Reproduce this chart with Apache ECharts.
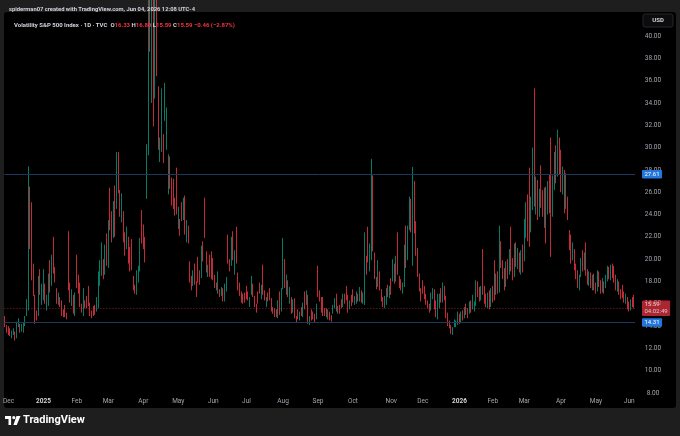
<!DOCTYPE html>
<html><head><meta charset="utf-8">
<script src="https://cdn.jsdelivr.net/npm/echarts@6/dist/echarts.min.js"></script>
<style>html,body{margin:0;padding:0;background:#1e1e1e;overflow:hidden}#c{width:680px;height:436px}</style>
</head><body><div id="c"></div>
<script>
// Trading days per month (category axis)
const tradingDays = [
['2024-11',[27,29]],
['2024-12',[2,3,4,5,6,9,10,11,12,13,16,17,18,19,20,23,24,26,27,30,31]],
['2025-01',[2,3,6,7,8,10,13,14,15,16,17,21,22,23,24,27,28,29,30,31]],
['2025-02',[3,4,5,6,7,10,11,12,13,14,18,19,20,21,24,25,26,27,28]],
['2025-03',[3,4,5,6,7,10,11,12,13,14,17,18,19,20,21,24,25,26,27,28,31]],
['2025-04',[1,2,3,4,7,8,9,10,11,14,15,16,17,21,22,23,24,25,28,29,30]],
['2025-05',[1,2,5,6,7,8,9,12,13,14,15,16,19,20,21,22,23,27,28,29,30]],
['2025-06',[2,3,4,5,6,9,10,11,12,13,16,17,18,20,23,24,25,26,27,30]],
['2025-07',[1,2,3,7,8,9,10,11,14,15,16,17,18,21,22,23,24,25,28,29,30,31]],
['2025-08',[1,4,5,6,7,8,11,12,13,14,15,18,19,20,21,22,25,26,27,28,29]],
['2025-09',[2,3,4,5,8,9,10,11,12,15,16,17,18,19,22,23,24,25,26,29,30]],
['2025-10',[1,2,3,6,7,8,9,10,13,14,15,16,17,20,21,22,23,24,27,28,29,30,31]],
['2025-11',[3,4,5,6,7,10,11,12,13,14,17,18,19,20,21,24,25,26,28]],
['2025-12',[1,2,3,4,5,8,9,10,11,12,15,16,17,18,19,22,23,24,26,29,30,31]],
['2026-01',[2,5,6,7,8,9,12,13,14,15,16,20,21,22,23,26,27,28,29,30]],
['2026-02',[2,3,4,5,6,9,10,11,12,13,17,18,19,20,23,24,25,26,27]],
['2026-03',[2,3,4,5,6,9,10,11,12,13,16,17,18,19,20,23,24,25,26,27,30,31]],
['2026-04',[1,2,6,7,8,9,10,13,14,15,16,17,20,21,22,23,24,27,28,29,30]],
['2026-05',[1,4,5,6,7,8,11,12,13,14,15,18,19,20,21,22,26,27,28,29]],
['2026-06',[1,2,3,4]]
];

// Daily candles per month: [open, close, low, high]
const nov24 = [[14.2,14.10,13.9,14.9],[14.0,13.51,13.4,14.1]];
const dec24 = [[13.9,13.34,13.2,14.0],[13.6,13.30,13.1,13.8],[13.4,13.45,12.9,13.6],[13.5,13.54,13.2,13.8],[13.4,12.77,12.7,13.5],
[13.0,14.19,12.9,14.4],[14.0,14.18,13.9,14.7],[14.0,13.58,13.4,14.2],[13.7,13.92,13.5,14.2],[13.8,13.81,13.4,14.3],
[14.4,14.69,14.0,14.9],[15.0,15.87,14.9,16.4],[15.6,27.62,15.4,28.32],[25.8,24.09,20.9,26.5],[24.6,18.36,18.1,25.1],
[19.4,16.78,16.7,19.6],[16.7,14.27,14.2,16.8],[15.3,14.73,14.5,15.4],[15.1,15.95,14.9,18.5],[17.8,17.40,16.8,19.1],[16.9,17.35,15.9,17.8]];
const jan25 = [[17.2,17.93,16.3,19.1],[17.6,16.13,16.0,17.8],[16.0,16.04,15.4,16.8],[16.1,17.82,15.8,18.7],[17.9,17.70,17.0,19.9],
[17.9,19.54,17.6,20.4],[20.9,19.19,18.7,22.0],[18.9,18.71,17.9,19.3],[17.3,16.12,16.0,17.4],[16.3,16.60,15.9,17.0],
[16.2,15.97,15.7,16.6],[16.0,15.06,14.9,16.3],[15.3,15.10,14.8,15.5],[15.6,15.02,14.8,15.9],[15.0,14.85,14.6,15.2],
[18.6,17.90,17.2,22.5],[17.4,16.41,16.1,17.9],[16.3,16.56,15.8,17.3],[16.5,15.84,15.1,16.8],[15.5,16.43,14.9,17.0]];
const feb25 = [[19.5,18.62,17.4,20.4],[18.4,17.21,16.9,18.6],[17.8,15.77,15.7,17.9],[15.8,15.50,15.2,16.0],[15.3,16.54,14.9,17.4],
[15.9,15.81,15.6,16.3],[16.3,16.02,15.6,16.7],[17.1,15.89,15.8,17.6],[15.9,15.10,14.9,16.1],[15.2,14.77,14.7,15.4],
[15.4,15.35,14.9,15.8],[15.6,15.27,15.0,15.9],[15.6,15.66,15.3,16.6],[15.8,18.21,15.6,18.9],[17.9,18.98,17.6,19.9],
[19.0,19.43,18.5,21.5],[19.2,19.10,18.2,20.0],[18.9,21.13,18.6,21.3],[21.0,19.63,19.4,22.3]];
const mar25 = [[19.8,22.78,19.2,23.5],[23.6,23.51,22.6,26.4],[23.3,21.93,21.5,24.3],[22.0,24.87,21.9,25.2],[24.4,23.37,22.0,26.6],
[24.7,27.86,24.5,29.6],[27.9,26.92,25.9,29.6],[25.9,24.23,23.8,26.2],[24.2,24.66,23.3,25.9],[23.8,21.77,21.5,24.3],
[22.0,20.51,20.3,22.4],[21.4,21.70,20.9,22.9],[21.6,19.90,19.6,22.0],[20.3,19.80,18.9,21.1],[20.7,19.28,19.0,21.8],
[18.1,17.48,17.2,18.5],[17.6,17.15,16.9,17.7],[17.1,18.33,16.8,19.0],[18.5,18.69,17.9,19.4],[19.0,21.65,18.9,21.9],[22.9,22.28,21.4,24.4]];
const apr25 = [[22.1,21.77,20.9,23.1],[21.9,21.51,19.7,22.0],[25.6,30.02,25.4,30.3],[29.8,45.31,29.3,45.6],[60.1,46.98,38.6,60.1],
[44.0,52.33,34.0,57.5],[50.9,33.62,31.9,57.5],[40.3,40.72,34.4,54.9],[40.5,37.56,36.4,46.1],[35.1,30.89,29.8,35.5],
[29.3,30.12,28.7,30.9],[32.2,32.64,29.6,35.3],[30.1,29.65,28.6,31.2],[33.6,33.82,32.4,35.8],[30.1,30.57,29.8,33.6],
[28.4,28.45,25.8,29.4],[28.8,26.47,26.3,29.2],[26.8,24.84,24.8,27.3],[25.9,25.15,24.5,27.2],[25.2,24.17,23.9,25.5],[25.8,24.70,24.0,28.2]];
const may25 = [[24.0,24.60,22.7,24.7],[23.3,22.68,22.1,23.6],[24.3,23.64,23.4,25.1],[24.5,24.76,23.5,25.5],[24.5,23.55,22.2,25.7],
[22.4,22.48,21.5,23.5],[22.5,21.90,21.4,23.0],[19.7,18.39,17.9,19.8],[18.2,17.61,17.2,18.5],[17.8,18.62,17.6,19.0],
[19.1,17.83,17.7,19.6],[17.9,17.24,16.6,18.0],[19.5,18.14,17.9,20.2],[18.3,18.09,17.7,19.0],[18.6,20.87,18.3,21.2],
[20.7,20.28,19.8,21.6],[24.0,22.29,21.9,25.5],[20.6,18.96,18.8,20.7],[19.3,19.31,18.4,19.5],[20.3,19.18,18.4,20.4],[19.3,18.57,18.2,20.7]];
const jun25 = [[19.9,18.36,18.1,20.1],[18.4,17.69,17.4,18.6],[17.7,17.61,17.2,17.9],[17.4,18.48,16.9,18.9],[17.2,16.77,16.6,17.3],
[16.9,17.16,16.7,17.5],[17.3,16.95,16.2,17.4],[17.0,17.26,16.2,17.8],[17.5,18.02,17.1,18.4],[21.0,20.82,19.6,22.2],
[19.5,19.11,18.9,20.0],[19.8,21.60,19.4,22.0],[20.8,20.14,19.9,22.5],[19.7,20.62,18.6,20.8],[22.6,19.83,19.6,22.9],
[18.4,17.48,17.2,18.8],[17.6,16.76,16.7,17.9],[16.9,16.59,16.1,17.1],[16.6,16.32,16.0,16.9],[16.9,16.73,16.1,17.0]];
const jul25 = [[17.1,16.83,16.4,17.6],[16.9,16.64,16.3,17.1],[16.3,16.38,15.7,16.6],[17.6,17.79,16.8,18.5],[17.7,16.81,16.6,17.8],
[16.6,15.94,15.7,16.7],[15.8,15.78,15.2,16.0],[16.8,16.40,16.0,17.1],[17.7,17.20,16.9,17.9],[16.9,17.38,16.4,17.7],
[17.3,17.16,16.8,19.5],[17.0,16.52,16.3,17.2],[16.3,16.41,15.7,16.6],[16.8,16.65,16.2,17.0],[16.8,16.50,16.3,17.4],
[16.2,15.37,15.3,16.5],[15.4,15.39,15.1,15.7],[15.5,14.93,14.8,15.6],[15.2,15.03,14.8,15.5],[15.0,15.98,14.7,16.3],
[15.6,15.48,15.0,17.1],[15.5,16.72,15.3,17.4]];
const aug25 = [[17.4,20.38,17.3,21.9],[19.9,17.52,17.4,20.0],[17.6,17.85,16.8,18.6],[17.9,16.77,16.6,18.1],[16.4,16.57,16.0,17.5],
[16.5,15.15,15.1,16.6],[15.3,16.25,15.2,16.4],[16.4,14.73,14.7,16.5],[14.8,14.49,14.3,14.9],[15.1,14.83,14.6,15.5],
[14.8,15.09,14.5,15.3],[15.4,15.00,14.9,15.7],[15.1,15.57,14.8,16.1],[15.8,15.69,15.5,17.1],[16.3,16.60,15.9,17.2],
[16.6,14.22,14.2,16.8],[14.5,14.79,14.1,14.9],[15.1,14.62,14.5,15.5],[15.0,14.85,14.6,15.3],[14.9,14.43,14.3,15.1],[14.7,15.36,14.6,16.0]];
const sep25 = [[17.2,17.17,16.6,19.4],[16.9,16.35,16.2,17.2],[16.4,15.30,15.2,16.6],[15.3,15.18,14.9,16.6],[15.4,15.11,14.9,15.6],
[15.3,15.04,14.8,15.6],[14.8,15.35,14.6,15.5],[15.2,14.71,14.5,15.3],[14.8,14.76,14.4,15.0],[15.3,15.69,15.1,15.9],
[15.8,16.36,15.6,16.5],[16.5,15.72,15.3,16.9],[15.6,15.70,15.1,15.8],[15.6,15.45,15.1,15.9],[16.3,16.10,15.6,16.4],
[16.1,16.64,15.7,16.9],[16.5,16.18,16.0,16.9],[16.8,16.74,16.3,17.6],[16.7,15.29,15.2,16.8],[15.8,16.12,15.5,16.3],[16.4,16.28,15.8,16.8]];
const oct25 = [[17.0,16.29,16.1,17.3],[16.4,16.63,15.9,16.7],[16.6,16.65,16.0,17.1],[16.7,16.37,16.2,16.9],[16.5,17.24,16.2,17.5],
[17.1,16.30,16.1,17.2],[16.3,16.43,16.0,17.0],[16.4,21.66,15.9,22.4],[19.9,19.03,18.6,20.3],[21.4,20.81,19.7,22.9],
[20.6,20.64,18.9,21.4],[20.3,25.31,19.9,28.99],[27.3,20.78,20.7,27.5],[20.5,18.23,18.2,20.6],[18.1,17.87,17.3,18.4],
[18.0,18.60,17.5,19.9],[18.5,17.30,17.2,18.9],[17.2,16.37,16.2,17.3],[16.4,15.79,15.7,16.6],[15.9,16.42,15.6,16.7],
[16.5,16.92,15.9,17.4],[17.1,16.91,16.6,17.7],[17.2,17.44,16.5,17.6]];
const nov25 = [[17.5,17.17,16.8,18.3],[18.7,19.00,18.0,20.0],[19.1,18.01,17.8,19.6],[18.1,19.50,18.0,20.3],[19.6,19.08,18.6,22.4],
[18.3,17.60,17.4,18.5],[17.9,17.28,17.2,18.2],[17.5,17.51,16.9,17.9],[17.6,20.00,17.5,21.3],[21.6,19.83,19.2,23.0],
[20.0,22.38,19.9,23.0],[23.3,24.69,22.6,25.6],[23.7,23.66,22.4,25.4],[21.7,26.42,19.4,28.27],[25.8,23.43,22.3,27.0],
[22.9,20.52,20.3,23.4],[20.5,18.56,18.4,21.0],[18.5,17.19,17.1,18.7],[17.3,16.35,16.2,17.4]];
const dec25 = [[17.8,17.24,16.9,18.1],[17.0,16.59,16.4,17.6],[16.7,16.08,15.9,16.9],[16.1,15.78,15.6,16.3],[15.8,15.41,15.2,16.0],
[15.6,16.66,15.4,17.0],[16.8,16.93,16.4,17.4],[16.8,15.77,15.5,17.3],[16.1,14.85,14.8,16.3],[14.8,15.74,14.6,16.9],
[15.9,16.50,15.6,16.9],[16.7,16.48,16.1,17.4],[16.5,17.62,16.1,17.9],[17.1,16.87,16.3,17.6],[16.6,14.91,14.7,16.7],
[15.0,14.08,14.0,15.2],[14.1,14.00,13.8,14.5],[14.0,13.47,13.3,14.1],[13.6,13.60,13.2,13.9],[14.2,14.20,13.9,14.6],
[14.3,14.33,13.9,14.5],[14.4,14.95,14.1,15.3]];
const jan26 = [[14.9,14.5,14.2,15.1],[14.8,14.9,14.3,15.3],[14.9,14.8,14.5,15.4],[15.0,15.4,14.7,15.7],[15.5,15.3,15.0,16.0],
[15.2,15.0,14.7,15.6],[15.6,15.7,15.1,16.2],[15.8,15.6,15.2,16.3],[15.9,16.3,15.5,16.8],[15.5,15.9,15.3,16.2],
[15.9,17.6,15.8,18.1],[17.4,17.0,16.6,18.0],[17.2,16.6,16.2,17.5],[16.5,17.2,16.3,17.6],[20.2,17.0,16.8,20.9],
[17.2,16.4,16.0,17.6],[16.4,16.2,15.7,16.9],[16.1,16.6,15.6,17.0],[16.6,16.0,15.5,17.2],[16.0,16.9,15.7,17.4]];
const feb26 = [[17.3,16.4,16.1,17.6],[19.5,17.0,16.3,19.9],[17.2,18.0,16.8,18.7],[18.2,17.4,16.9,18.9],[17.2,21.8,17.0,23.0],
[21.0,19.5,19.2,21.6],[19.3,18.6,18.2,19.9],[18.8,17.6,17.2,19.2],[17.8,19.3,17.5,19.8],[19.4,18.7,18.2,20.0],
[18.9,20.4,18.6,20.9],[21.7,19.2,18.9,22.9],[19.5,18.4,18.1,20.1],[18.7,20.8,18.4,21.4],[20.9,19.6,19.3,21.5],
[19.8,20.4,19.1,21.0],[20.2,19.3,18.8,20.6],[19.5,20.1,18.6,20.8],[20.2,19.4,18.8,21.3]];
const mar26 = [[20.0,22.6,19.8,23.6],[22.4,23.9,21.9,25.1],[24.5,22.0,21.6,25.8],[26.0,22.6,21.1,28.2],[23.0,24.7,22.4,25.6],
[24.9,29.2,24.4,30.0],[29.6,25.6,24.7,35.3],[25.5,26.8,24.0,27.4],[26.6,24.2,23.5,27.1],[24.3,25.6,23.8,26.3],
[27.6,25.0,24.6,28.4],[25.2,24.4,23.8,26.2],[24.2,26.0,22.8,26.4],[25.9,24.3,21.4,26.5],[24.5,25.9,24.0,27.0],
[26.2,24.8,24.1,27.6],[28.2,23.8,20.2,30.9],[24.2,26.8,23.8,27.5],[26.6,28.9,26.2,29.6],[28.8,27.6,26.8,30.2],
[27.8,30.6,27.4,31.6],[30.4,28.4,27.6,30.9]];
const apr26 = [[29.4,26.6,26.0,29.8],[26.8,27.6,25.8,28.3],[27.8,24.6,24.1,28.0],[24.8,26.9,24.5,27.7],[25.2,23.9,23.5,25.6],
[22.4,21.2,20.8,22.6],[21.6,20.1,19.6,22.2],[20.4,20.9,19.9,21.5],[20.6,19.4,19.0,20.9],[19.3,18.6,18.2,19.6],
[18.7,17.9,17.4,19.0],[17.8,18.3,17.2,18.6],[18.6,19.6,18.4,20.1],[19.8,19.2,18.9,20.8],[19.3,20.1,19.0,20.6],
[19.4,18.7,18.5,21.5],[18.8,18.0,17.7,19.1],[18.1,18.6,17.6,18.9],[18.5,17.7,17.4,18.8],[17.8,18.3,17.2,18.6],[18.4,17.5,17.2,18.7]];
const may26 = [[17.6,17.2,16.9,17.9],[17.3,18.6,17.1,19.0],[18.4,17.9,17.5,18.9],[17.8,17.2,16.9,18.1],[17.3,17.9,17.0,18.3],
[17.8,17.3,16.9,18.0],[17.6,18.3,17.4,18.6],[18.4,19.0,18.0,19.4],[19.0,18.5,18.2,19.3],[18.6,19.2,18.1,19.5],
[19.3,18.6,18.3,19.6],[18.9,18.2,17.9,19.4],[18.3,17.5,17.2,18.6],[17.6,17.8,17.1,18.2],[17.8,17.1,16.8,18.0],
[17.0,16.7,16.4,17.3],[17.2,16.9,16.5,17.7],[16.9,16.4,16.1,17.1],[16.5,16.6,16.0,16.9],[16.4,15.8,15.5,16.6]];
const jun26 = [[15.9,15.6,15.3,16.2],[15.7,16.1,15.4,16.4],[16.2,16.05,15.7,16.6],[16.33,15.59,15.59,16.80]];

const monthCandles = [nov24,dec24,jan25,feb25,mar25,apr25,may25,jun25,jul25,aug25,sep25,oct25,nov25,dec25,jan26,feb26,mar26,apr26,may26,jun26];

// Horizontal levels drawn on the chart
const levelLines = [27.61, 14.31];
const countdownText = '04:02:49';
const monthNames = ['Jan','Feb','Mar','Apr','May','Jun','Jul','Aug','Sep','Oct','Nov','Dec'];
const priceTicks = {min: 6, max: 42, step: 2};

const UP = '#089981', DOWN = '#f23645';
const LEVEL_LINE = '#1d3a5c', LEVEL_BOX = '#2276dc';
const FONT = 'Roboto';

const dates = [], candles = [], monthStart = [];
tradingDays.forEach(([ym, days], mi) => {
  days.forEach((d, di) => {
    dates.push(ym + '-' + String(d).padStart(2,'0'));
    monthStart.push(di === 0 && mi > 0);
    candles.push(monthCandles[mi][di]);
  });
});
const last = candles[candles.length-1];
const prevClose = candles[candles.length-2][1];
const chg = last[1] - prevClose;
const pct = chg / prevClose * 100;
const fmt = v => v.toFixed(2);
const sgn = v => (v < 0 ? '\u2212' : '+') + Math.abs(v).toFixed(2);

const boxLabel = (text, bg) => ({show:true, position:'end', distance:7, formatter: text, color:'#fff', backgroundColor:bg,
  padding:[1,2.5,0.5,2.5], fontSize:6, lineHeight:7, fontFamily: FONT, borderRadius:1});

const chart = echarts.init(document.getElementById('c'), null, {renderer:'canvas'});
chart.setOption({
  animation: false,
  backgroundColor: '#1e1e1e',
  textStyle: {fontFamily: FONT},
  title: [
    {left: 4, top: 2, text: 'spiderman07 created with TradingView.com, Jun 04, 2026 12:08 UTC-4',
     textStyle: {color:'#d1d4dc', fontSize: 5.8, fontWeight: 'bold', fontFamily: FONT}},
    {left: 9, top: 17,
     text: '{n|Volatility S&P 500 Index · 1D · TVC}  {k|O}{v|' + fmt(last[0]) + '} {k|H}{v|' + fmt(last[3]) + '} {k|L}{v|' + fmt(last[2]) +
           '} {k|C}{v|' + fmt(last[1]) + '} {v|' + sgn(chg) + ' (' + sgn(pct) + '%)}',
     textStyle: {fontSize: 6, fontFamily: FONT, rich: {
       n: {color:'#d1d4dc', fontSize: 6, fontFamily: FONT},
       k: {color:'#d1d4dc', fontSize: 6, fontFamily: FONT},
       v: {color: DOWN, fontSize: 6, fontFamily: FONT}
     }}}
  ],
  graphic: [
    {type:'rect', z: -10, shape:{x:4, y:12, width:672, height:396, r:3}, style:{fill:'#000'}},
    {type:'rect', z: 10, shape:{x:643, y:14, width:30, height:13, r:2}, style:{fill:'#0c0c0c', stroke:'#2a2e39', lineWidth:0.8}},
    {type:'text', z: 11, style:{x:658, y:20.5, text:'USD', fill:'#d1d4dc', font:'bold 6px Roboto', textAlign:'center', textVerticalAlign:'middle'}},
    {type:'group', left: 5, top: 416, children: [
      {type:'rect', shape:{x:0, y:0, width:6, height:3}, style:{fill:'#fff'}},
      {type:'rect', shape:{x:3.5, y:0, width:2.6, height:9}, style:{fill:'#fff'}},
      {type:'circle', shape:{cx:8.8, cy:1.6, r:1.6}, style:{fill:'#fff'}},
      {type:'polygon', shape:{points:[[11.5,0],[15.5,0],[11.8,9],[8.4,9]]}, style:{fill:'#fff'}}
    ]},
    {type:'text', style:{x:23, y:420.5, text:'TradingView', fill:'#ffffff', font:'bold 11px Roboto', textVerticalAlign:'middle'}}
  ],
  grid: {left: 3, right: 45, top: 13.7, bottom: 20.7},
  xAxis: {
    type: 'category', data: dates, boundaryGap: true,
    axisLine: {show:false}, axisTick: {show:false}, splitLine: {show:false},
    axisLabel: {
      margin: -17, fontSize: 6.5, color: '#a3a6af', fontFamily: FONT,
      interval: (i) => monthStart[i] || i === 2,
      formatter: (v) => {
        const m = +v.slice(5,7);
        return m === 1 ? '{y|' + v.slice(0,4) + '}' : monthNames[m-1];
      },
      rich: {y: {fontWeight:'bold', color:'#d1d4dc', fontSize: 6.5, fontFamily: FONT}}
    }
  },
  yAxis: {
    type: 'value', position: 'right', min: priceTicks.min, max: priceTicks.max, interval: priceTicks.step, scale: true,
    axisLine: {show:false}, axisTick: {show:false}, splitLine: {show:false},
    axisLabel: {
      margin: 18, align: 'center', fontSize: 6.5, color: '#a3a6af', fontFamily: FONT,
      formatter: (v) => (v === priceTicks.min || v === priceTicks.max) ? '' : v.toFixed(2)
    }
  },
  series: [{
    type: 'candlestick', data: candles, barWidth: '60%', clip: true,
    itemStyle: {color: UP, color0: DOWN, borderColor: UP, borderColor0: DOWN, borderWidth: 0.8},
    markLine: {
      symbol: ['none','none'], silent: true, animation: false,
      data: [
        {yAxis: levelLines[0], lineStyle:{color:LEVEL_LINE, width:1, type:'solid'}, label: boxLabel(fmt(levelLines[0]), LEVEL_BOX)},
        {yAxis: levelLines[1], lineStyle:{color:LEVEL_LINE, width:1, type:'solid'}, label: boxLabel(fmt(levelLines[1]), LEVEL_BOX)},
        {yAxis: last[1], lineStyle:{color:DOWN, width:0.8, type:[1,2], opacity:0.7},
         label: boxLabel(fmt(last[1]) + '\n' + countdownText, DOWN)}
      ]
    }
  }]
});
</script>
</body></html>
